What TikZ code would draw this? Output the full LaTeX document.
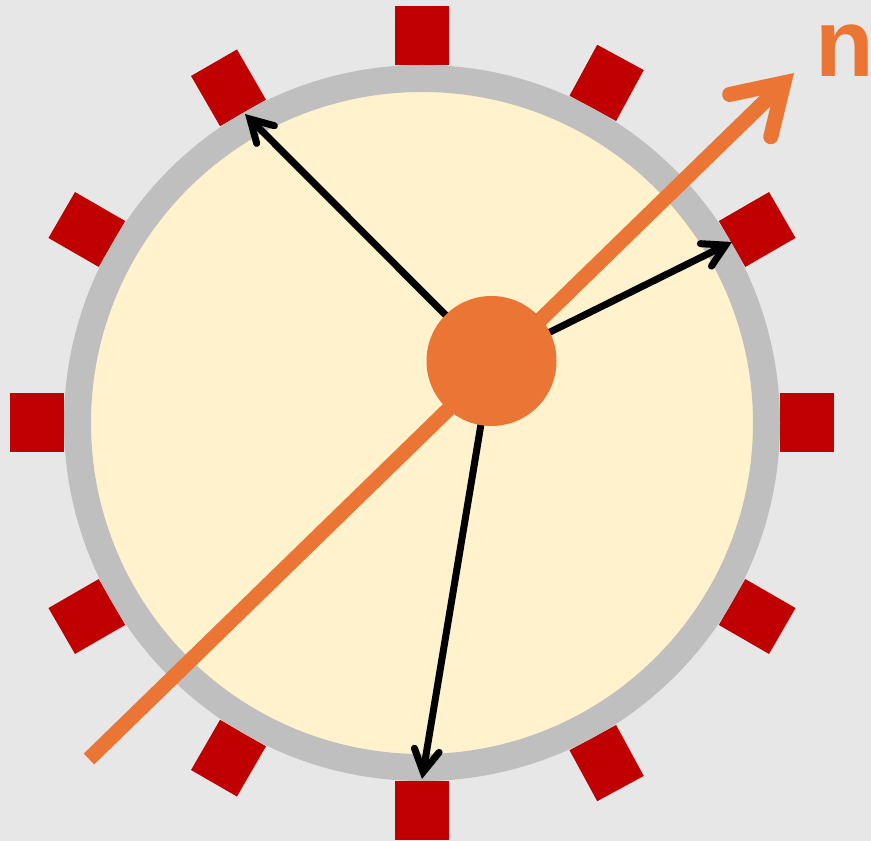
\documentclass[tikz,border=0pt]{standalone}
\usepackage{fontspec}
\newfontfamily\labelfont{Liberation Sans}
\usetikzlibrary{arrows.meta}
\definecolor{bgc}{HTML}{E7E7E7}
\definecolor{ringc}{HTML}{BFBFBF}
\definecolor{creamc}{HTML}{FFF2CC}
\definecolor{redc}{HTML}{C00000}
\definecolor{orangec}{HTML}{EB7535}
\tikzset{
  redsq/.style={fill=redc, draw=none, inner sep=0pt, outer sep=0pt},
  ringstyle/.style={circle, draw=ringc, fill=creamc, line width=27pt, inner sep=0pt, minimum size=689pt},
  dotstyle/.style={circle, fill=orangec, draw=none, inner sep=0pt, minimum size=130pt},
  blackarrow/.style={draw=black, line width=7pt, line cap=round,
    -{Straight Barb[length=22pt, width=25pt, line cap=round, line join=miter]}},
  normalarrow/.style={draw=orangec, line width=15pt, line cap=butt,
    -{Straight Barb[length=47pt, width=59pt, line cap=round, line join=miter]}},
  nlabel/.style={text=orangec, inner sep=0pt, anchor=base west,
    font=\labelfont\bfseries\fontsize{96}{96}\selectfont}
}
\begin{document}
\begin{tikzpicture}[x=1pt, y=1pt]
\useasboundingbox (0,0) rectangle (871,841);
\fill[bgc] (0,0) rectangle (871,841);
\coordinate (C) at (422,418);
% red squares
\foreach \a/\L/\W in {0/54/59, 30/58/53, 61.5/58/53, 90/59/54, 120/58/53, 150/58/53,
                      180/54/59, 210/58/53, 240/58/53, 270/59/54, 298.5/58/53, 330/58/53}{
  \pgfmathsetmacro{\rr}{358+\L/2}
  \node (sq\a) [redsq, rotate=\a, minimum width=\L pt, minimum height=\W pt]
    at ([shift={(\a:\rr)}]C) {};
}
% ring
\node (ring) [ringstyle] at (C) {};
% targets
\coordinate (D) at (491.5,480);
\coordinate (tipUL) at (245,727);
\coordinate (tipR) at (732,599);
\coordinate (tipB) at (422,62);
\coordinate (nstart) at (89,82);
\coordinate (ntip) at (794,768);
% black arrows
\draw[blackarrow] (D) -- (tipUL);
\draw[blackarrow] (D) -- (tipR);
\draw[blackarrow] (D) -- (tipB);
% normal vector
\draw[normalarrow] (nstart) -- (ntip);
\node (dot) [dotstyle] at (D) {};
\node (nlab) [nlabel] at (815,764) {\makebox[52pt][l]{n}};
\end{tikzpicture}
\end{document}
